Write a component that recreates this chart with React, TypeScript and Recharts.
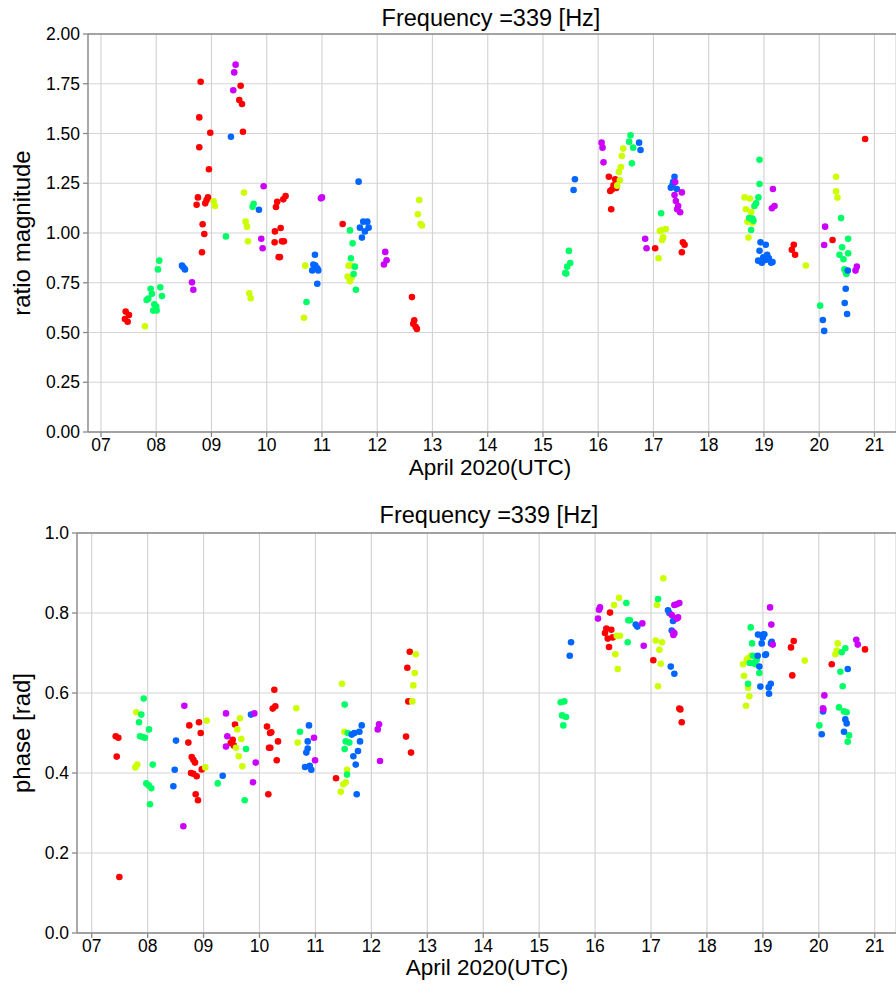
import React from 'react';
import {
  ScatterChart,
  Scatter,
  XAxis,
  YAxis,
  CartesianGrid,
  ReferenceLine,
} from 'recharts';

type Pt = [number, number];

// hsv colormap sampled at five points
const COLORS = ['#ff0000', '#ccff00', '#00ff66', '#0066ff', '#cc00ff'];

const dayTicks = [7, 8, 9, 10, 11, 12, 13, 14, 15, 16, 17, 18, 19, 20, 21];
const magTicks = [0, 0.25, 0.5, 0.75, 1.0, 1.25, 1.5, 1.75, 2.0];
const phaseTicks = [0, 0.2, 0.4, 0.6, 0.8, 1.0];

// ratio magnitude, [day of April, value]
const magRed: Pt[] = [
  [7.447, 0.605], [7.507, 0.588], [7.434, 0.568], [7.483, 0.554],
  [8.804, 1.76], [8.779, 1.581], [8.978, 1.504], [8.779, 1.431], [8.954, 1.32], [8.755, 1.179],
  [8.731, 1.142], [8.936, 1.179], [8.912, 1.166], [8.887, 1.149], [8.84, 1.044], [8.87, 0.995], [8.828, 0.903],
  [9.528, 1.74], [9.503, 1.668], [9.552, 1.648], [9.57, 1.509],
  [10.19, 1.157], [10.167, 1.131], [10.3, 1.169], [10.342, 1.186], [10.149, 1.008], [10.252, 1.025],
  [10.143, 0.953], [10.275, 0.958], [10.311, 0.958], [10.215, 0.879], [10.24, 0.879],
  [11.374, 1.045],
  [12.628, 0.678], [12.67, 0.561], [12.652, 0.544], [12.695, 0.529], [12.718, 0.518],
  [16.193, 1.283], [16.307, 1.27], [16.278, 1.24], [16.325, 1.226], [16.248, 1.218], [16.217, 1.211], [16.235, 1.119],
  [17.031, 0.923], [17.532, 0.953], [17.563, 0.941], [17.514, 0.903],
  [19.54, 0.941], [19.504, 0.916], [19.564, 0.891],
  [20.241, 0.965], [20.831, 1.472],
];
const magYellow: Pt[] = [
  [7.796, 0.531], [9.039, 1.159], [9.063, 1.136], [9.588, 1.203], [9.618, 1.057], [9.642, 1.032],
  [9.66, 0.958], [9.684, 0.697], [9.709, 0.672], [10.697, 0.836], [10.674, 0.574],
  [11.482, 0.836], [11.53, 0.836], [11.464, 0.781], [11.537, 0.777], [11.506, 0.757],
  [12.76, 1.166], [12.736, 1.094], [12.785, 1.045], [12.81, 1.038],
  [16.452, 1.424], [16.428, 1.387], [16.41, 1.332], [16.374, 1.307], [16.392, 1.265], [16.343, 1.238],
  [17.092, 0.873], [17.116, 1.01], [17.152, 1.015], [17.224, 1.02], [17.176, 0.978], [17.158, 0.965],
  [18.648, 1.179], [18.744, 1.173], [18.672, 1.119], [18.768, 1.106], [18.702, 1.057], [18.792, 1.052], [18.72, 0.977],
  [19.758, 0.837], [20.306, 1.283], [20.306, 1.209], [20.331, 1.178],
];
const magGreen: Pt[] = [
  [8.055, 0.861], [8.031, 0.817], [7.899, 0.72], [8.073, 0.727], [7.923, 0.695], [8.104, 0.683],
  [7.856, 0.67], [7.826, 0.663], [7.965, 0.642], [8.0, 0.63], [7.946, 0.61], [8.008, 0.61],
  [9.262, 0.983], [9.763, 1.147], [9.745, 1.132], [10.72, 0.653],
  [11.506, 1.013], [11.554, 0.948], [11.524, 0.873], [11.596, 0.831], [11.573, 0.794], [11.614, 0.715],
  [15.469, 0.91], [15.493, 0.849], [15.439, 0.831], [15.403, 0.799], [15.421, 0.796],
  [16.585, 1.491], [16.56, 1.459], [16.633, 1.429], [16.609, 1.35], [17.139, 1.099],
  [18.92, 1.368], [18.92, 1.246], [18.9, 1.179], [18.858, 1.149], [18.828, 1.136], [18.732, 1.075],
  [18.792, 1.072], [18.81, 1.062], [18.768, 1.015],
  [20.017, 0.635], [20.396, 1.075], [20.524, 0.971], [20.415, 0.928], [20.367, 0.891], [20.524, 0.898],
  [20.44, 0.868], [20.457, 0.818], [20.493, 0.794], [20.48, 0.804],
];
const magBlue: Pt[] = [
  [8.466, 0.836], [8.49, 0.828], [8.52, 0.817], [9.352, 1.484], [9.859, 1.117],
  [10.873, 0.891], [10.844, 0.842], [10.88, 0.836], [10.915, 0.822], [10.824, 0.812], [10.933, 0.812], [10.915, 0.745],
  [11.663, 1.258], [11.747, 1.057], [11.82, 1.057], [11.687, 1.027], [11.844, 1.027], [11.777, 1.008], [11.723, 0.977],
  [15.578, 1.27], [15.554, 1.216], [16.74, 1.454], [16.766, 1.417],
  [17.381, 1.283], [17.356, 1.256], [17.315, 1.228], [17.423, 1.221], [17.345, 1.241],
  [18.938, 0.953], [19.033, 0.941], [18.92, 0.911], [19.058, 0.891], [18.986, 0.878], [18.895, 0.861],
  [18.962, 0.851], [19.089, 0.873], [19.13, 0.851], [19.155, 0.854], [19.029, 0.864],
  [20.066, 0.563], [20.09, 0.508], [20.517, 0.811], [20.48, 0.72], [20.462, 0.648], [20.505, 0.593],
];
const magPurple: Pt[] = [
  [8.647, 0.752], [8.671, 0.715], [9.437, 1.846], [9.412, 1.807], [9.394, 1.717],
  [9.944, 1.235], [9.901, 0.971], [9.926, 0.923], [10.981, 1.174], [11.0, 1.179],
  [12.145, 0.905], [12.17, 0.863], [12.121, 0.842],
  [16.061, 1.454], [16.078, 1.429], [16.096, 1.355], [16.85, 0.971], [16.875, 0.923],
  [17.393, 1.256], [17.514, 1.204], [17.381, 1.191], [17.405, 1.161], [17.447, 1.136], [17.429, 1.119], [17.483, 1.104],
  [19.162, 1.221], [19.144, 1.124], [19.191, 1.136],
  [20.107, 1.032], [20.09, 0.94], [20.681, 0.831], [20.657, 0.811],
];

// phase in rad, [day of April, value]
const phRed: Pt[] = [
  [7.429, 0.492], [7.476, 0.488], [7.447, 0.441], [7.494, 0.14],
  [8.745, 0.519], [8.918, 0.527], [8.949, 0.5], [8.728, 0.476], [8.788, 0.44], [8.817, 0.433], [8.847, 0.426],
  [8.776, 0.4], [8.817, 0.398], [8.877, 0.392], [8.967, 0.409], [8.859, 0.347], [8.9, 0.332],
  [9.562, 0.521], [9.521, 0.483], [9.485, 0.475], [9.539, 0.469],
  [10.265, 0.608], [10.236, 0.561], [10.283, 0.567], [10.134, 0.516], [10.188, 0.5], [10.211, 0.502],
  [10.17, 0.463], [10.193, 0.463], [10.331, 0.479], [10.308, 0.432], [10.158, 0.347],
  [11.368, 0.387],
  [12.686, 0.703], [12.643, 0.663], [12.661, 0.579], [12.62, 0.491], [12.709, 0.451],
  [16.267, 0.801], [16.201, 0.761], [16.29, 0.758], [16.177, 0.75], [16.315, 0.739], [16.226, 0.736], [16.249, 0.715],
  [17.041, 0.682], [17.506, 0.561], [17.524, 0.559], [17.549, 0.527],
  [19.551, 0.73], [19.503, 0.714], [19.526, 0.644],
  [20.231, 0.672], [20.826, 0.709],
];
const phYellow: Pt[] = [
  [7.797, 0.552], [7.78, 0.414], [7.815, 0.421], [9.056, 0.531], [9.031, 0.414],
  [9.651, 0.537], [9.603, 0.509], [9.675, 0.485], [9.58, 0.463], [9.628, 0.442], [9.693, 0.417],
  [10.658, 0.562], [10.683, 0.476],
  [11.475, 0.623], [11.517, 0.503], [11.565, 0.408], [11.452, 0.353], [11.499, 0.372], [11.541, 0.377],
  [12.793, 0.697], [12.775, 0.65], [12.75, 0.619], [12.732, 0.579],
  [16.428, 0.838], [16.339, 0.82], [16.387, 0.743], [16.446, 0.743], [16.362, 0.697], [16.405, 0.66],
  [17.22, 0.887], [17.107, 0.82], [17.084, 0.731], [17.197, 0.727], [17.149, 0.708], [17.173, 0.673], [17.125, 0.617],
  [18.788, 0.693], [18.735, 0.687], [18.711, 0.683], [18.645, 0.672], [18.663, 0.643], [18.735, 0.613],
  [18.758, 0.592], [18.699, 0.568],
  [19.748, 0.681], [20.338, 0.724], [20.32, 0.706], [20.296, 0.697],
];
const phGreen: Pt[] = [
  [7.93, 0.586], [7.887, 0.546], [7.846, 0.527], [8.024, 0.509], [7.864, 0.492], [7.912, 0.49],
  [7.953, 0.488], [8.091, 0.421], [7.976, 0.374], [8.019, 0.369], [8.066, 0.362], [8.042, 0.322],
  [9.253, 0.374], [9.759, 0.46], [9.735, 0.332], [10.724, 0.503],
  [11.523, 0.571], [11.577, 0.5], [11.541, 0.479], [11.606, 0.476], [11.523, 0.46], [11.565, 0.396],
  [15.385, 0.577], [15.45, 0.579], [15.409, 0.544], [15.48, 0.54], [15.432, 0.519],
  [16.559, 0.825], [16.594, 0.782], [16.624, 0.782], [16.583, 0.727], [17.125, 0.835],
  [18.783, 0.764], [18.806, 0.724], [18.823, 0.693], [18.889, 0.683], [18.84, 0.675], [18.765, 0.675],
  [18.865, 0.672], [18.937, 0.65], [18.735, 0.623],
  [20.01, 0.519], [20.474, 0.712], [20.409, 0.702], [20.386, 0.653], [20.427, 0.617], [20.361, 0.564],
  [20.45, 0.554], [20.498, 0.552], [20.54, 0.494], [20.517, 0.478],
];
const phBlue: Pt[] = [
  [8.507, 0.481], [8.484, 0.408], [8.46, 0.367], [9.342, 0.393], [9.848, 0.546],
  [10.885, 0.519], [10.862, 0.479], [10.862, 0.461], [10.837, 0.451], [10.814, 0.415], [10.898, 0.418], [10.926, 0.408],
  [11.649, 0.496], [11.695, 0.5], [11.785, 0.503], [11.797, 0.479], [11.678, 0.442], [11.761, 0.455],
  [11.72, 0.421], [11.738, 0.347], [11.828, 0.519],
  [15.57, 0.727], [15.547, 0.693], [16.726, 0.771], [16.755, 0.766],
  [17.304, 0.807], [17.328, 0.8], [17.394, 0.78], [17.37, 0.756], [17.353, 0.666], [17.417, 0.648],
  [18.913, 0.746], [19.002, 0.746], [19.026, 0.747], [18.997, 0.739], [18.979, 0.724], [19.158, 0.728],
  [19.145, 0.724], [19.056, 0.697], [19.039, 0.695], [18.908, 0.693], [18.937, 0.666], [18.955, 0.616],
  [19.104, 0.614], [19.14, 0.623], [19.11, 0.598],
  [20.075, 0.554], [20.052, 0.497], [20.517, 0.66], [20.474, 0.534], [20.498, 0.524], [20.45, 0.503],
];
const phPurple: Pt[] = [
  [8.656, 0.568], [8.638, 0.267], [9.401, 0.549], [9.425, 0.492], [9.401, 0.466],
  [9.907, 0.549], [9.932, 0.426], [9.884, 0.377], [10.975, 0.488], [10.993, 0.432],
  [12.137, 0.522], [12.114, 0.509], [12.155, 0.43],
  [16.088, 0.814], [16.07, 0.808], [16.052, 0.786], [16.844, 0.774], [16.869, 0.718],
  [17.417, 0.82], [17.459, 0.822], [17.506, 0.825], [17.37, 0.795], [17.459, 0.786], [17.483, 0.789],
  [17.399, 0.752], [17.417, 0.749], [17.399, 0.745],
  [19.128, 0.814], [19.151, 0.771], [19.176, 0.721],
  [20.099, 0.594], [20.075, 0.562], [20.081, 0.559], [20.67, 0.733], [20.696, 0.721],
];

const magSeries = [magRed, magYellow, magGreen, magBlue, magPurple];
const phSeries = [phRed, phYellow, phGreen, phBlue, phPurple];

const FONT = '"Liberation Sans", Arial, sans-serif';
const TICK = { fontSize: 17.5, fill: '#000', fontFamily: FONT };
const SPINE = '#8a8a8a';
const GRID = '#d4d4d4';

const toXY = (a: Pt[]) => a.map(([x, y]) => ({ x, y }));
const dot = (fill: string) => (p: any) => <circle cx={p.cx} cy={p.cy} r={3.3} fill={fill} />;
const dayLabel = (v: number) => String(v).padStart(2, '0');

function Panel(props: {
  series: Pt[][];
  yDomain: [number, number];
  yTicks: number[];
  yFmt: (v: number) => string;
  yWidth: number;
  top: number;
  xAxisH: number;
  xDomain: [number, number];
}) {
  const { series, yDomain, yTicks, yFmt, yWidth, top, xAxisH, xDomain } = props;
  return (
    <ScatterChart width={896} height={496} margin={{ top, right: 0, bottom: 0, left: 0 }}>
      <CartesianGrid stroke={GRID} strokeWidth={1.2} />
      <XAxis
        type="number"
        dataKey="x"
        domain={xDomain}
        ticks={dayTicks}
        tickFormatter={dayLabel}
        allowDataOverflow
        height={xAxisH}
        tick={TICK}
        tickSize={5}
        tickMargin={2}
        stroke={SPINE}
        strokeWidth={1.3}
      />
      <YAxis
        type="number"
        dataKey="y"
        domain={yDomain}
        ticks={yTicks}
        tickFormatter={yFmt}
        allowDataOverflow
        width={yWidth}
        tick={TICK}
        tickSize={5}
        tickMargin={3}
        stroke={SPINE}
        strokeWidth={1.3}
      />
      <ReferenceLine y={yDomain[1]} stroke={SPINE} strokeWidth={1.3} />
      {series.map((s, i) => (
        <Scatter
          key={i}
          data={toXY(s)}
          fill={COLORS[i]}
          shape={dot(COLORS[i])}
          isAnimationActive={false}
        />
      ))}
    </ScatterChart>
  );
}

const label: React.CSSProperties = {
  position: 'absolute',
  fontFamily: FONT,
  color: '#000',
  whiteSpace: 'nowrap',
  transform: 'translate(-50%, -50%)',
  lineHeight: 1,
};

export default function App() {
  return (
    <div style={{ position: 'absolute', left: 0, top: 0, width: 896, height: 992, background: '#fff', overflow: 'hidden' }}>
      <div style={{ position: 'absolute', left: 0, top: 0 }}>
        <Panel
          series={magSeries}
          yDomain={[0, 2]}
          yTicks={magTicks}
          yFmt={(v) => v.toFixed(2)}
          yWidth={88}
          top={34}
          xAxisH={64}
          xDomain={[6.765, 21.39]}
        />
      </div>
      <div style={{ position: 'absolute', left: 0, top: 496 }}>
        <Panel
          series={phSeries}
          yDomain={[0, 1]}
          yTicks={phaseTicks}
          yFmt={(v) => v.toFixed(1)}
          yWidth={77}
          top={37}
          xAxisH={59}
          xDomain={[6.737, 21.38]}
        />
      </div>

      <div style={{ ...label, left: 491, top: 19, fontSize: 23.5 }}>Frequency =339 [Hz]</div>
      <div style={{ ...label, left: 490, top: 468, fontSize: 22.5 }}>April 2020(UTC)</div>
      <div style={{ ...label, left: 22, top: 233, fontSize: 24, transform: 'translate(-50%, -50%) rotate(-90deg)' }}>
        ratio magnitude
      </div>

      <div style={{ ...label, left: 489, top: 516, fontSize: 23.5 }}>Frequency =339 [Hz]</div>
      <div style={{ ...label, left: 487, top: 968, fontSize: 22.5 }}>April 2020(UTC)</div>
      <div style={{ ...label, left: 22, top: 733, fontSize: 24, transform: 'translate(-50%, -50%) rotate(-90deg)' }}>
        phase [rad]
      </div>
    </div>
  );
}
